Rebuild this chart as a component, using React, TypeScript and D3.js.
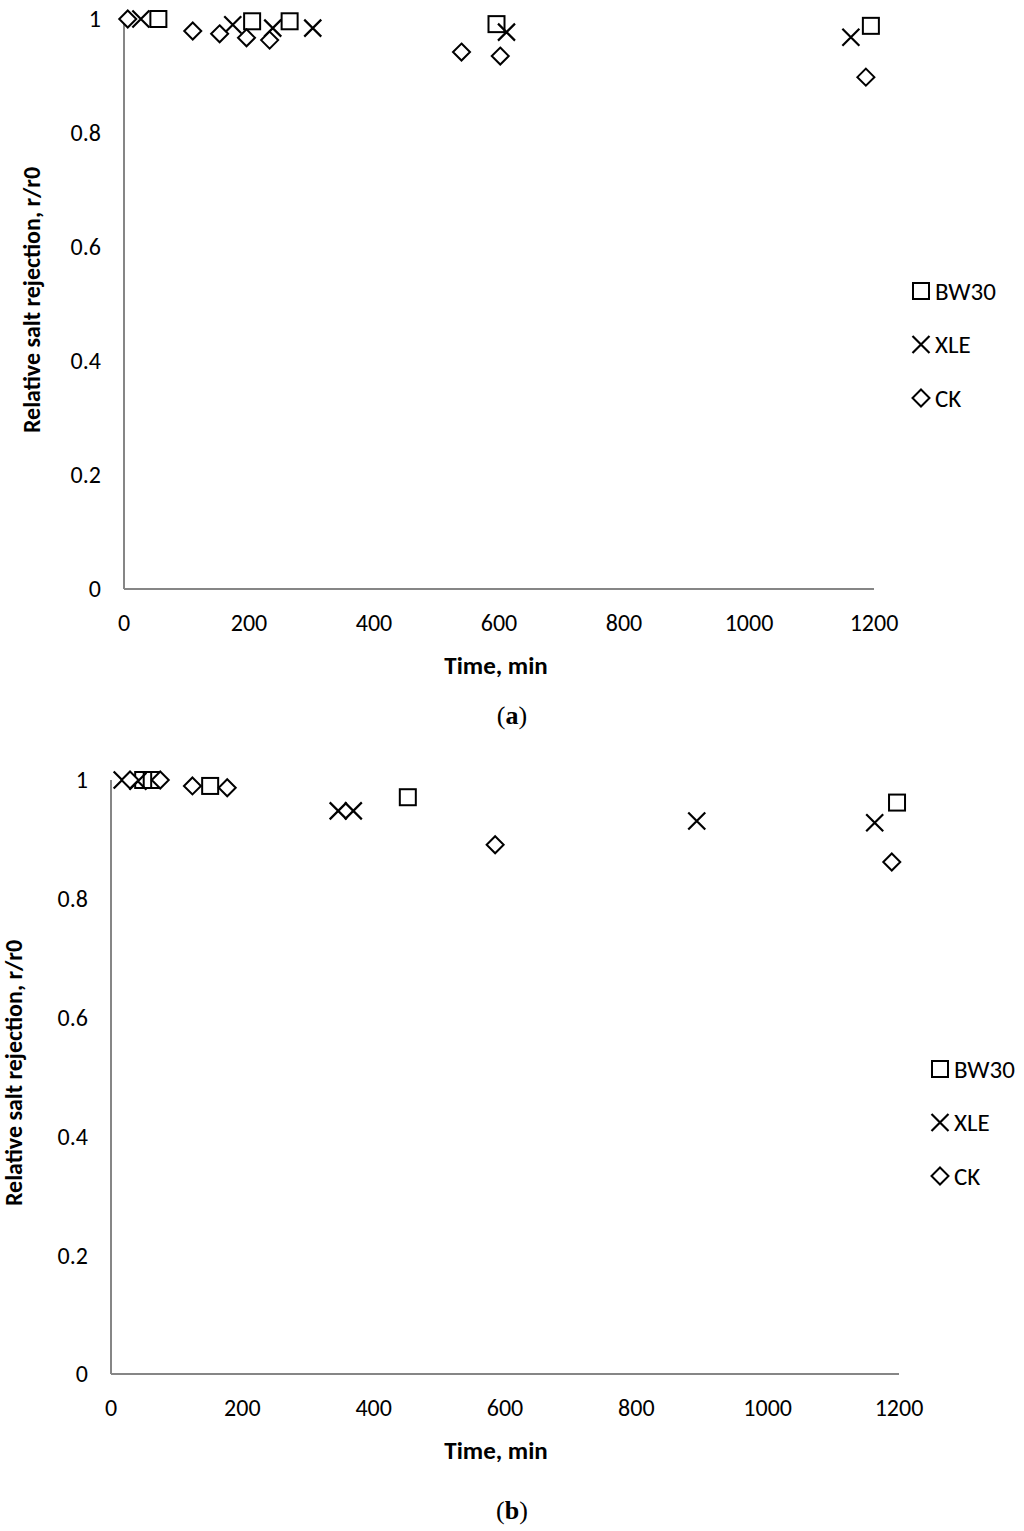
import React from 'react';
import * as d3 from 'd3';

// panel (a)
const bw30A: [number, number][] = [[55, 1.0], [205, 0.996], [265, 0.996], [596, 0.991], [1195, 0.988]];
const xleA: [number, number][] = [[27, 1.0], [174, 0.99], [238, 0.984], [302, 0.984], [612, 0.977], [1163, 0.968]];
const ckA: [number, number][] = [[6, 1.0], [110, 0.979], [153, 0.974], [196, 0.967], [233, 0.963], [540, 0.942], [602, 0.935], [1187, 0.898]];

// panel (b)
const bw30B: [number, number][] = [[49, 1.0], [62, 1.0], [151, 0.99], [452, 0.971], [1197, 0.962]];
const xleB: [number, number][] = [[17, 1.0], [41, 0.998], [346, 0.948], [369, 0.948], [892, 0.931], [1163, 0.928]];
const ckB: [number, number][] = [[29, 1.0], [75, 1.0], [124, 0.99], [177, 0.987], [585, 0.891], [1189, 0.862]];

const xTicks = [0, 200, 400, 600, 800, 1000, 1200];
const yTicks = [0, 0.2, 0.4, 0.6, 0.8, 1];
const seriesNames = ['BW30', 'XLE', 'CK'];

const font = "Calibri, Carlito, 'Open Sans', 'Noto Sans', sans-serif";

function Marker({ kind, x, y }: { kind: string; x: number; y: number }) {
  const s = 8;
  if (kind === 'BW30') {
    return <rect x={x - s} y={y - s} width={2 * s} height={2 * s} fill="none" stroke="#000" strokeWidth={2} />;
  }
  if (kind === 'XLE') {
    const k = 8.5;
    return (
      <path d={`M${x - k},${y - k}L${x + k},${y + k}M${x - k},${y + k}L${x + k},${y - k}`} stroke="#000" strokeWidth={2.2} fill="none" />
    );
  }
  const d = 8.5;
  return <path d={`M${x},${y - d}L${x + d},${y}L${x},${y + d}L${x - d},${y}Z`} fill="#fff" stroke="#000" strokeWidth={2} />;
}

type PanelProps = {
  x0: number; x1: number; y0: number; y1: number;
  yLabelRight: number; yTitleX: number;
  legendX: number; legendY: number;
  caption: string; captionY: number;
  bw30: [number, number][]; xle: [number, number][]; ck: [number, number][];
};

function Panel(p: PanelProps) {
  const x = d3.scaleLinear().domain([0, 1200]).range([p.x0, p.x1]);
  const y = d3.scaleLinear().domain([0, 1]).range([p.y0, p.y1]);
  const series: [string, [number, number][]][] = [['BW30', p.bw30], ['XLE', p.xle], ['CK', p.ck]];
  return (
    <g>
      <line x1={p.x0} x2={p.x0} y1={p.y0} y2={p.y1} stroke="#868686" strokeWidth={2} />
      <line x1={p.x0} x2={p.x1} y1={p.y0} y2={p.y0} stroke="#868686" strokeWidth={2} />
      {yTicks.map(t => (
        <text key={t} x={p.yLabelRight} y={y(t)} dy="0.35em" textAnchor="end" fontSize={24} fontFamily={font}>{t}</text>
      ))}
      {xTicks.map(t => (
        <text key={t} x={x(t)} y={p.y0 + 34} dy="0.35em" textAnchor="middle" fontSize={24} fontFamily={font}>{t}</text>
      ))}
      <text transform={`translate(${p.yTitleX},${(p.y0 + p.y1) / 2 - 4}) rotate(-90)`} textAnchor="middle" dy="0.35em" fontSize={24} fontWeight="bold" fontFamily={font}>Relative salt rejection, r/r0</text>
      <text x={496} y={p.y0 + 76} dy="0.35em" textAnchor="middle" fontSize={25} fontWeight="bold" fontFamily={font}>Time, min</text>
      {series.map(([name, data]) => data.map((d, i) => (
        <Marker key={name + i} kind={name} x={x(d[0])} y={y(d[1])} />
      )))}
      {seriesNames.map((name, i) => (
        <g key={name}>
          <Marker kind={name} x={p.legendX} y={p.legendY + i * 53.5} />
          <text x={p.legendX + 14} y={p.legendY + i * 53.5} dy="0.35em" fontSize={25} fontFamily={font}>{name}</text>
        </g>
      ))}
      <text x={512} y={p.captionY} dy="0.35em" textAnchor="middle" fontSize={26} fontFamily="'Liberation Serif', 'DejaVu Serif', serif">
        (<tspan fontWeight="bold">{p.caption}</tspan>)
      </text>
    </g>
  );
}

export default function App() {
  return (
    <svg width={1024} height={1531} style={{ position: 'absolute', left: 0, top: 0, background: '#fff' }}>
      <rect width={1024} height={1531} fill="#fff" />
      <Panel x0={124} x1={874} y0={589} y1={19} yLabelRight={101} yTitleX={32}
        legendX={921} legendY={291} caption="a" captionY={715}
        bw30={bw30A} xle={xleA} ck={ckA} />
      <Panel x0={111} x1={899} y0={1374} y1={780} yLabelRight={88} yTitleX={14}
        legendX={940} legendY={1069} caption="b" captionY={1510}
        bw30={bw30B} xle={xleB} ck={ckB} />
    </svg>
  );
}
